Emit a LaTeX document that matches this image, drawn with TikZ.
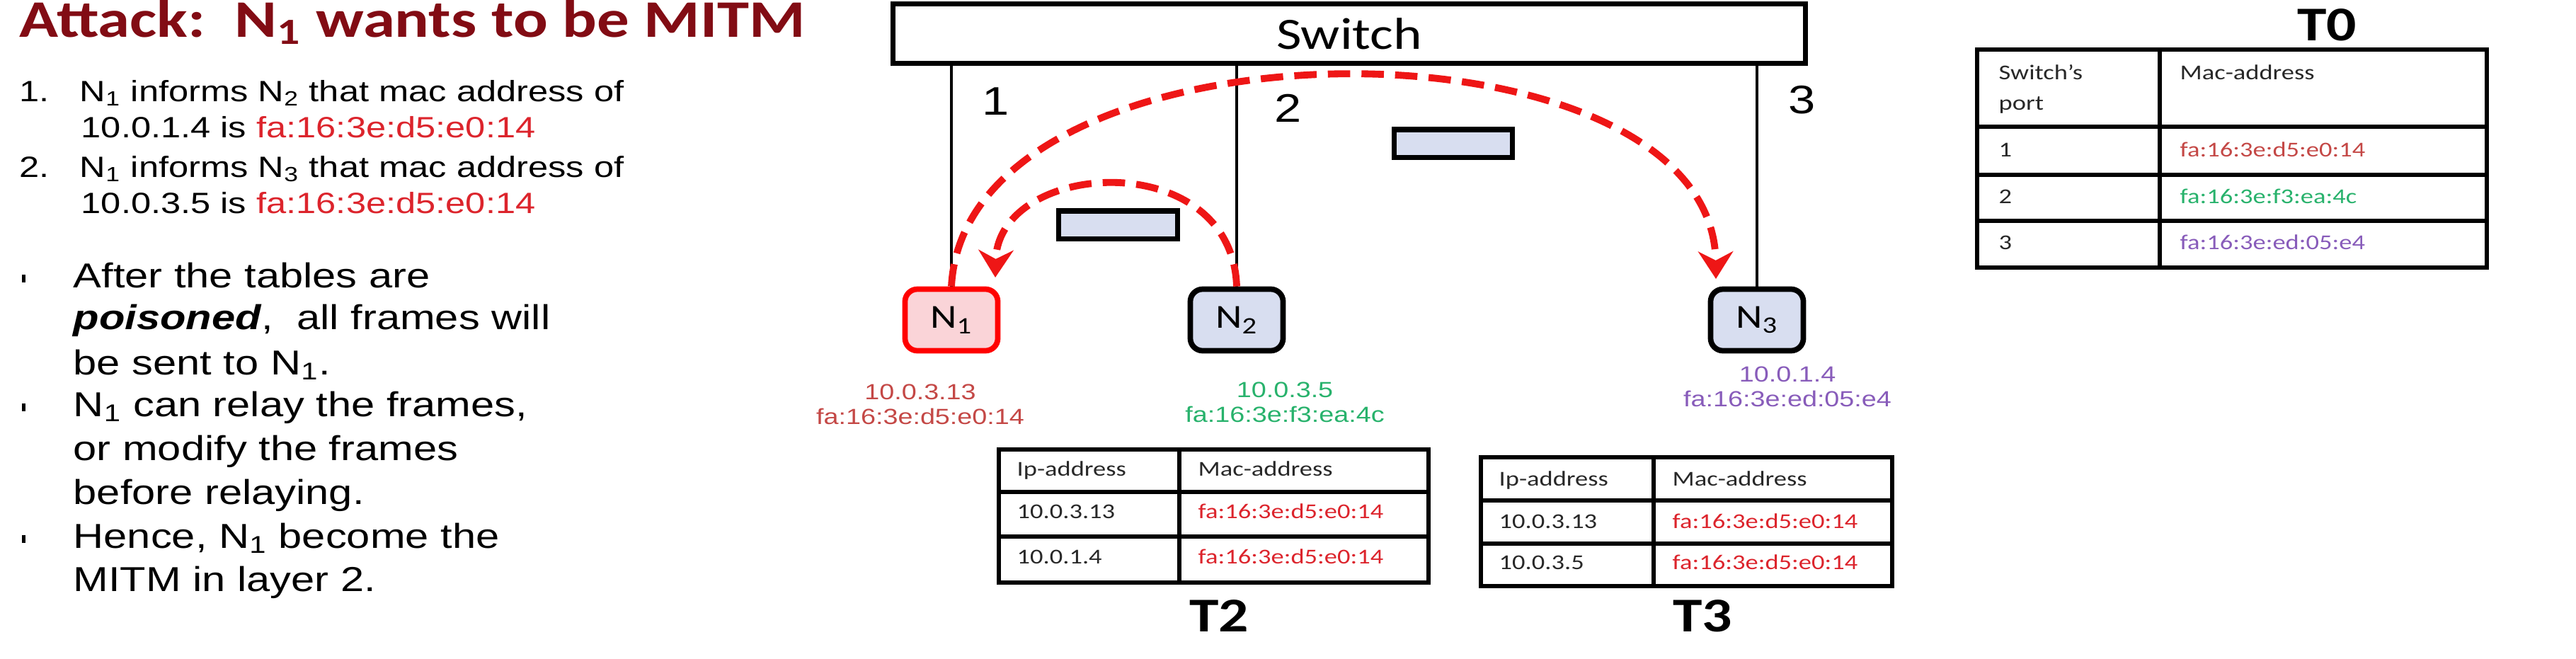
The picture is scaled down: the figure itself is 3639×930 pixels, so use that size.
\documentclass[tikz,border=0pt]{standalone}
\usepackage{fontspec}
\setmainfont{Liberation Sans}[FakeStretch=1.22]
\newfontfamily\calibri{Carlito}[FakeStretch=1.22]
\usetikzlibrary{arrows.meta}
\definecolor{titlered}{RGB}{130,12,20}
\definecolor{macred}{RGB}{220,36,44}
\definecolor{nred}{RGB}{196,72,70}
\definecolor{ngreen}{RGB}{40,178,108}
\definecolor{npurple}{RGB}{136,92,186}
\definecolor{hostblue}{RGB}{216,222,240}
\definecolor{hostpink}{RGB}{250,212,216}
\definecolor{spoofred}{RGB}{238,22,22}
\definecolor{celltext}{RGB}{40,40,40}

\begin{document}
\begin{tikzpicture}[x=0.01cm, y=-0.01cm]
\tikzset{host/.style={draw, line width=2.2pt, rounded corners=5pt, fill=hostblue, minimum width=1.31cm, minimum height=0.87cm, font=\calibri\fontsize{13.5}{13.5}\selectfont},
  packet/.style={draw, line width=2pt, fill=hostblue, minimum width=1.67cm, minimum height=0.39cm},
  spoof/.style={draw=spoofred, line width=2.8pt, dash pattern=on 9pt off 4.5pt, -{Stealth[length=11pt, width=14pt]}},
  port/.style={line width=1.2pt},
  grid/.style={line width=1.5pt},
  cell/.style={anchor=base west, inner sep=0pt, text=celltext, font=\calibri\fontsize{8.5}{8.5}\selectfont},
  addr/.style={align=center, font=\fontsize{8.8}{10}\selectfont},
  tname/.style={font=\calibri\bfseries\fontsize{19.5}{19.5}\selectfont},
  line/.style={anchor=base west, inner sep=0pt, font=\fontsize{11.8}{11.8}\selectfont},
  bline/.style={anchor=base west, inner sep=0pt, font=\fontsize{13.9}{13.9}\selectfont}}
\useasboundingbox (0,0) rectangle (3639,930);

% left column
\node[anchor=base west, inner sep=0pt, text=titlered, font=\calibri\bfseries\fontsize{21.2}{21.2}\selectfont] (title) at (27,52) {Attack:\ \ N\textsubscript{1} wants to be MITM};
\node[line] (n1) at (27,143) {1.};
\node[line] (l1) at (112,143) {N\textsubscript{1} informs N\textsubscript{2} that mac address of};
\node[line] (l2) at (114,194) {10.0.1.4 is \textcolor{macred}{fa:16:3e:d5:e0:14}};
\node[line] (n2) at (27,250) {2.};
\node[line] (l3) at (112,250) {N\textsubscript{1} informs N\textsubscript{3} that mac address of};
\node[line] (l4) at (114,301) {10.0.3.5 is \textcolor{macred}{fa:16:3e:d5:e0:14}};
\node[bline] (b1) at (103,406) {After the tables are};
\node[bline] (b2) at (103,465) {\textbf{\textit{poisoned}},\ \ all frames will};
\node[bline] (b3) at (103,529) {be sent to N\textsubscript{1}.};
\node[bline] (b4) at (103,588) {N\textsubscript{1} can relay the frames,};
\node[bline] (b5) at (103,650) {or modify the frames};
\node[bline] (b6) at (103,712) {before relaying.};
\node[bline] (b7) at (103,774) {Hence, N\textsubscript{1} become the};
\node[bline] (b8) at (103,835) {MITM in layer 2.};
\foreach \y in {406,588,774}
  \fill (31,\y-18) rectangle (36,\y-7);

% switch and hosts
\node[draw, line width=2pt, minimum width=12.89cm, minimum height=0.83cm, font=\calibri\fontsize{18}{18}\selectfont] (sw) at (1906,47.5) {Switch};
\node[host, draw=red, fill=hostpink] (N1) at (1344,452) {N\textsubscript{1}};
\node[host] (N2) at (1747,452) {N\textsubscript{2}};
\node[host] (N3) at (2482,452) {N\textsubscript{3}};
\draw[port] (N1.north) -- (N1.north |- sw.south);
\draw[port] (N2.north) -- (N2.north |- sw.south);
\draw[port] (N3.north) -- (N3.north |- sw.south);
\node[font=\fontsize{16}{16}\selectfont] (p1) at (1407,143) {1};
\node[font=\fontsize{16}{16}\selectfont] (p2) at (1820,153) {2};
\node[font=\fontsize{16}{16}\selectfont] (p3) at (2546,141) {3};
\node[packet] (pk1) at (1579.5,317.5) {};
\node[packet] (pk2) at (2053,202.5) {};
\coordinate (in1) at (1406,392);
\coordinate (in3) at (2424,394);
\draw[spoof] (N2.north) .. controls (1740,205) and (1410,225) .. (in1);
\draw[spoof] (N1.north) .. controls (1365,10) and (2420,10) .. (in3);
\node[addr, text=nred] (a1) at (1300,571) {10.0.3.13\\fa:16:3e:d5:e0:14};
\node[addr, text=ngreen] (a2) at (1815,568) {10.0.3.5\\fa:16:3e:f3:ea:4c};
\node[addr, text=npurple] (a3) at (2525,546) {10.0.1.4\\fa:16:3e:ed:05:e4};

% T2
\draw[grid] (1411,635) rectangle (2018,823);
\draw[grid] (1666,635) -- (1666,823);
\foreach \y in {695,758}
  \draw[grid] (1411,\y) -- (2018,\y);
\node[cell] (t2a) at (1436,672) {Ip-address};
\node[cell] (t2b) at (1692,672) {Mac-address};
\node[cell] (t2c) at (1436,732) {10.0.3.13};
\node[cell, text=macred] (t2d) at (1692,732) {fa:16:3e:d5:e0:14};
\node[cell] (t2e) at (1436,796) {10.0.1.4};
\node[cell, text=macred] (t2f) at (1692,796) {fa:16:3e:d5:e0:14};
\node[tname] (T2) at (1722,870) {T2};

% T3
\draw[grid] (2092,646) rectangle (2673,828);
\draw[grid] (2336,646) -- (2336,828);
\foreach \y in {707,768}
  \draw[grid] (2092,\y) -- (2673,\y);
\node[cell] (t3a) at (2117,686) {Ip-address};
\node[cell] (t3b) at (2362,686) {Mac-address};
\node[cell] (t3c) at (2117,746) {10.0.3.13};
\node[cell, text=macred] (t3d) at (2362,746) {fa:16:3e:d5:e0:14};
\node[cell] (t3e) at (2117,804) {10.0.3.5};
\node[cell, text=macred] (t3f) at (2362,804) {fa:16:3e:d5:e0:14};
\node[tname] (T3) at (2405,870) {T3};

% T0
\draw[grid] (2793,70) rectangle (3513,378);
\draw[grid] (3051,70) -- (3051,378);
\foreach \y in {179,247,312}
  \draw[grid] (2793,\y) -- (3513,\y);
\node[cell] (t0a) at (2823,112) {Switch’s};
\node[cell] (t0b) at (2823,155) {port};
\node[cell] (t0c) at (3079,112) {Mac-address};
\node[cell] (t0d) at (2823,221) {1};
\node[cell, text=nred] (t0e) at (3079,221) {fa:16:3e:d5:e0:14};
\node[cell] (t0f) at (2823,287) {2};
\node[cell, text=ngreen] (t0g) at (3079,287) {fa:16:3e:f3:ea:4c};
\node[cell] (t0h) at (2823,352) {3};
\node[cell, text=npurple] (t0i) at (3079,352) {fa:16:3e:ed:05:e4};
\node[tname] (T0) at (3287,35) {T0};
\end{tikzpicture}
\end{document}
